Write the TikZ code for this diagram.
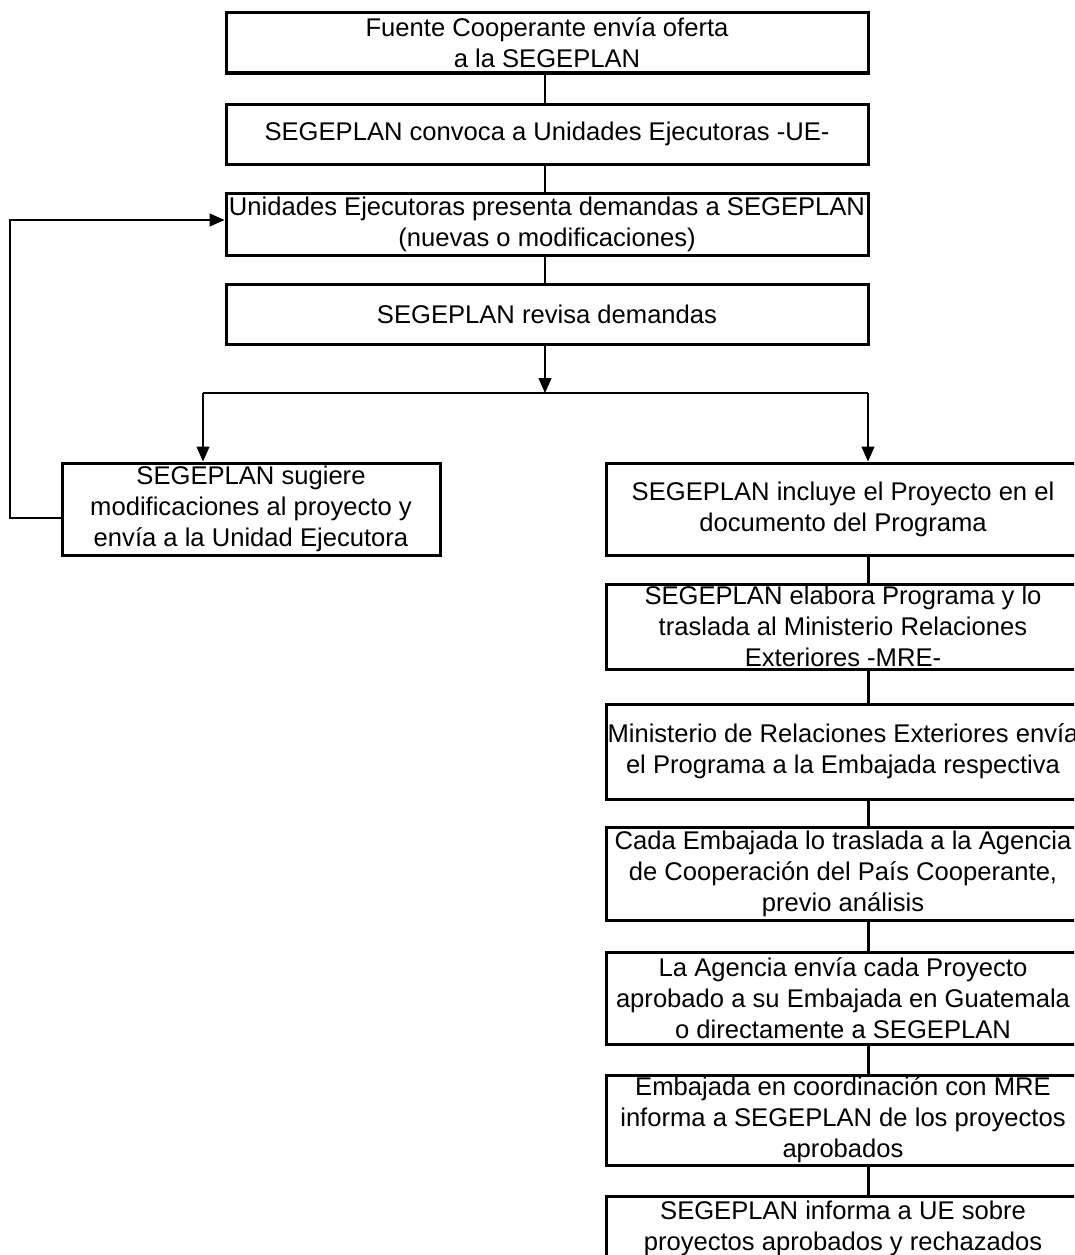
\documentclass[tikz,border=0pt]{standalone}
\usepackage{fontspec}
\setmainfont{Liberation Sans}
\usetikzlibrary{arrows.meta}
\begin{document}
\begin{tikzpicture}[x=1pt,y=-1pt,
  every node/.style={font=\fontsize{25.6}{31}\selectfont},
  flowbox/.style={draw=black,line width=3pt,fill=white,inner sep=0pt,align=center},
  topbox/.style={flowbox,minimum width=642pt},
  rbox/.style={flowbox,minimum width=474pt},
  thinline/.style={line width=1.2pt},
  thickline/.style={line width=3pt},
  tip/.style={-{Triangle[length=15pt,width=13pt]}}]
\useasboundingbox (0,0) rectangle (1074,1255);
\clip (0,0) rectangle (1074,1255);
% top column
\node[topbox,minimum height=60pt] (t1) at (547,43) {Fuente Cooperante envía oferta\\a la SEGEPLAN};
\node[topbox,minimum height=60pt] (t2) at (547,134) {SEGEPLAN convoca a Unidades Ejecutoras -UE-};
\node[topbox,minimum height=62pt] (t3) at (547,224) {Unidades Ejecutoras presenta demandas a SEGEPLAN\\(nuevas o modificaciones)};
\node[topbox,minimum height=60pt] (t4) at (547,314) {SEGEPLAN revisa demandas};
% left branch
\node[flowbox,minimum width=378pt,minimum height=92pt] (l1) at (251,509) {SEGEPLAN sugiere\\modificaciones al proyecto y\\envía a la Unidad Ejecutora};
% right column
\node[rbox,minimum height=92pt] (r1) at (843,509) {SEGEPLAN incluye el Proyecto en el\\documento del Programa};
\node[rbox,minimum height=85pt] (r2) at (843,626.5) {SEGEPLAN elabora Programa y lo\\traslada al Ministerio Relaciones\\Exteriores -MRE-};
\node[rbox,minimum height=95pt] (r3) at (843,751.5) {Ministerio de Relaciones Exteriores envía\\el Programa a la Embajada respectiva};
\node[rbox,minimum height=93pt] (r4) at (843,873.5) {Cada Embajada lo traslada a la Agencia\\de Cooperación del País Cooperante,\\previo análisis};
\node[rbox,minimum height=92pt] (r5) at (843,998) {La Agencia envía cada Proyecto\\aprobado a su Embajada en Guatemala\\o directamente a SEGEPLAN};
\node[rbox,minimum height=90pt] (r6) at (843,1120) {Embajada en coordinación con MRE\\informa a SEGEPLAN de los proyectos\\aprobados};
\node[rbox,minimum height=64pt] (r7) at (843,1228) {SEGEPLAN informa a UE sobre\\proyectos aprobados y rechazados};
% helper coordinates
\coordinate (split) at (545,393);
\coordinate (sl) at (203,393);
\coordinate (sr) at (868,393);
\coordinate (loopx) at (10,0);
% top connectors
\draw[thinline] (split |- t1.south) -- (split |- t2.north);
\draw[thinline] (split |- t2.south) -- (split |- t3.north);
\draw[thinline] (split |- t3.south) -- (split |- t4.north);
\draw[thinline,tip] (split |- t4.south) -- (split);
\draw[thinline] (sl) -- (sr);
\draw[thinline,tip] (sl) -- (sl |- l1.north);
\draw[thinline,tip] (sr) -- (sr |- r1.north);
% loop back
\draw[line width=1.4pt,tip] ([yshift=-9pt]l1.west) -- ([yshift=-9pt]l1.west -| loopx) |- ([yshift=4pt]t3.west);
% right column connectors
\draw[thickline] (sr |- r1.south) -- (sr |- r2.north);
\draw[thickline] (sr |- r2.south) -- (sr |- r3.north);
\draw[thickline] (sr |- r3.south) -- (sr |- r4.north);
\draw[thickline] (sr |- r4.south) -- (sr |- r5.north);
\draw[thickline] (sr |- r5.south) -- (sr |- r6.north);
\draw[thickline] (sr |- r6.south) -- (sr |- r7.north);
\end{tikzpicture}
\end{document}
